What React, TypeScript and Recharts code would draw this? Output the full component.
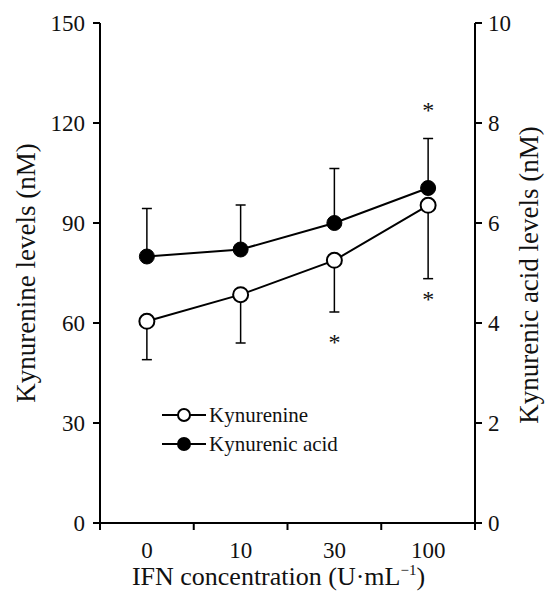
import {
  ComposedChart,
  Line,
  Scatter,
  XAxis,
  YAxis,
  ErrorBar,
  Legend,
} from "recharts";

const concentrations = ["0", "10", "30", "100"];

// Kynurenine (nM, left axis) with lower SD ends
const kynurenine = [60.5, 68.5, 78.8, 95.3];
const kynurenineLow = [49.0, 54.0, 63.3, 73.3];

// Kynurenic acid (nM, right axis) with upper SD ends
const kynurenicAcid = [5.33, 5.47, 6.0, 6.7];
const kynurenicAcidHigh = [6.29, 6.36, 7.09, 7.69];

// significance asterisks, in left-axis units
const asterisks = [
  { x: 2.5, y: 55.5 },
  { x: 3.5, y: 68.4 },
  { x: 3.5, y: 125.2 },
];

const leftTicks = [0, 30, 60, 90, 120, 150];
const rightTicks = [0, 2, 4, 6, 8, 10];

const FONT = "'Liberation Serif', 'Times New Roman', serif";

const data = concentrations.map((c, i) => ({
  x: i + 0.5,
  label: c,
  kyn: kynurenine[i],
  kynErr: [kynurenine[i] - kynurenineLow[i], 0],
  acid: kynurenicAcid[i],
  acidErr: [0, kynurenicAcidHigh[i] - kynurenicAcid[i]],
}));

const xTicks = [0, 0.5, 1, 1.5, 2, 2.5, 3, 3.5, 4];

function XTick(props: any) {
  const { x, y, payload } = props;
  const v = payload.value as number;
  if (Number.isInteger(v)) {
    return <line x1={x} x2={x} y1={y} y2={y + 7} stroke="#000" strokeWidth={2} />;
  }
  const idx = Math.floor(v);
  return (
    <text x={x} y={y + 35} textAnchor="middle" fontFamily={FONT} fontSize={23} fill="#111">
      {concentrations[idx]}
    </text>
  );
}

function XTitle(props: any) {
  const { viewBox } = props;
  const cx = viewBox.x + viewBox.width / 2 - 9;
  return (
    <text x={cx} y={viewBox.y + 62} textAnchor="middle" fontFamily={FONT} fontSize={26} fill="#111">
      IFN concentration (U·mL
      <tspan dy={-10} fontSize={15}>−1</tspan>
      <tspan dy={10}>)</tspan>
    </text>
  );
}

function LeftTitle() {
  return (
    <text
      x={0}
      y={0}
      transform="translate(26, 273) rotate(-90)"
      textAnchor="middle"
      dominantBaseline="central"
      fontFamily={FONT}
      fontSize={27}
      fill="#111"
    >
      Kynurenine levels (nM)
    </text>
  );
}

function RightTitle() {
  return (
    <text
      x={0}
      y={0}
      transform="translate(529, 275) rotate(-90)"
      textAnchor="middle"
      dominantBaseline="central"
      fontFamily={FONT}
      fontSize={27}
      fill="#111"
    >
      Kynurenic acid levels (nM)
    </text>
  );
}

function Star(props: any) {
  const { cx, cy } = props;
  return (
    <text x={cx} y={cy + 12} textAnchor="middle" fontFamily={FONT} fontSize={24} fill="#111">
      *
    </text>
  );
}

function LegendBox() {
  const rows = [
    { label: "Kynurenine", fill: "#fff" },
    { label: "Kynurenic acid", fill: "#000" },
  ];
  return (
    <svg width={220} height={62} style={{ display: "block" }}>
      {rows.map((r, i) => {
        const cy = 14 + i * 29;
        return (
          <g key={r.label}>
            <line x1={2} x2={46} y1={cy} y2={cy} stroke="#000" strokeWidth={2} />
            <circle cx={24} cy={cy} r={6} fill={r.fill} stroke="#000" strokeWidth={2} />
            <text x={49} y={cy} dominantBaseline="central" fontFamily={FONT} fontSize={21} fill="#111">
              {r.label}
            </text>
          </g>
        );
      })}
    </svg>
  );
}

export default function App() {
  return (
    <div style={{ position: "absolute", left: 0, top: 0, background: "#fff" }}>
      <ComposedChart
        width={545}
        height={599}
        data={data}
        margin={{ top: 23, right: 0, bottom: 0, left: 0 }}
      >
        <XAxis
          dataKey="x"
          type="number"
          domain={[0, 4]}
          ticks={xTicks}
          interval={0}
          tick={<XTick />}
          tickLine={false}
          tickSize={0}
          tickMargin={0}
          height={76}
          axisLine={{ stroke: "#000", strokeWidth: 2 }}
          label={{ content: <XTitle /> }}
        />
        <YAxis
          yAxisId="left"
          domain={[0, 150]}
          ticks={leftTicks}
          width={100}
          tickSize={7}
          tickMargin={8}
          axisLine={{ stroke: "#000", strokeWidth: 2 }}
          tickLine={{ stroke: "#000", strokeWidth: 2 }}
          tick={{ fontFamily: FONT, fontSize: 23, fill: "#111" }}
          label={{ content: <LeftTitle /> }}
        />
        <YAxis
          yAxisId="right"
          orientation="right"
          domain={[0, 10]}
          ticks={rightTicks}
          width={70}
          tickSize={7}
          tickMargin={6}
          axisLine={{ stroke: "#000", strokeWidth: 2 }}
          tickLine={{ stroke: "#000", strokeWidth: 2 }}
          tick={{ fontFamily: FONT, fontSize: 23, fill: "#111" }}
          label={{ content: <RightTitle /> }}
        />
        <Legend
          layout="vertical"
          align="center"
          verticalAlign="middle"
          wrapperStyle={{ position: "absolute", left: 160, top: 401, width: 220 }}
          content={() => <LegendBox />}
        />
        <Line
          yAxisId="left"
          dataKey="kyn"
          name="Kynurenine"
          stroke="#000"
          strokeWidth={2}
          dot={{ r: 7.5, fill: "#fff", stroke: "#000", strokeWidth: 2 }}
          isAnimationActive={false}
        >
          <ErrorBar dataKey="kynErr" direction="y" width={5} stroke="#000" strokeWidth={1.5} />
        </Line>
        <Line
          yAxisId="right"
          dataKey="acid"
          name="Kynurenic acid"
          stroke="#000"
          strokeWidth={2}
          dot={{ r: 7.5, fill: "#000", stroke: "#000", strokeWidth: 1 }}
          isAnimationActive={false}
        >
          <ErrorBar dataKey="acidErr" direction="y" width={5} stroke="#000" strokeWidth={1.5} />
        </Line>
        <Scatter
          yAxisId="left"
          data={asterisks}
          dataKey="y"
          shape={<Star />}
          legendType="none"
          isAnimationActive={false}
        />
      </ComposedChart>
    </div>
  );
}
